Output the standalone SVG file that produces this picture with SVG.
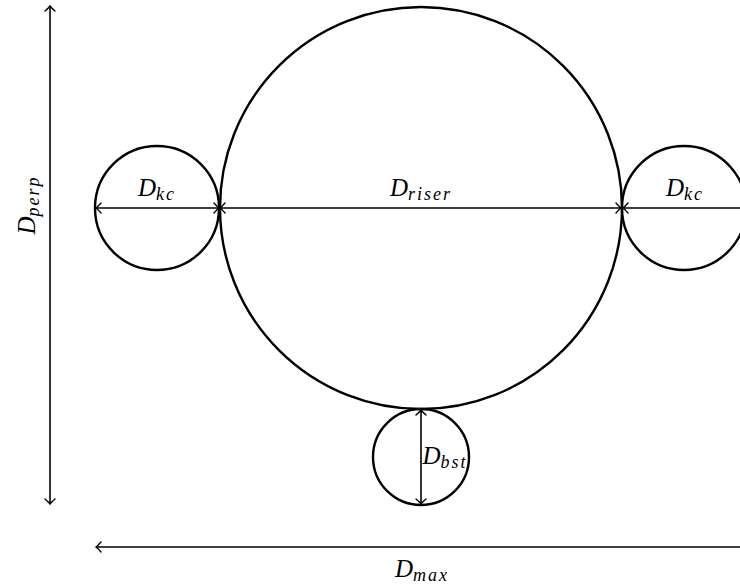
<svg xmlns="http://www.w3.org/2000/svg" width="740" height="586" viewBox="0 0 740 586">
<style>
.c{fill:none;stroke:#000;stroke-width:2.4}
.a{fill:none;stroke:#000;stroke-width:1.6;marker-start:url(#ah);marker-end:url(#ah)}
.ae{fill:none;stroke:#000;stroke-width:1.6;marker-start:url(#ah)}
.t{font-family:"Liberation Serif","DejaVu Serif",serif;font-style:italic;font-size:25px;fill:#000}
.s{font-size:18px;letter-spacing:2px}
</style>
<defs>
<marker id="ah" markerUnits="userSpaceOnUse" viewBox="-8 -6 10 12" markerWidth="10" markerHeight="12" refX="0" refY="0" orient="auto-start-reverse" overflow="visible">
<path d="M-5,-5 Q-1.5,-1 0,0 Q-1.5,1 -5,5" fill="none" stroke="#000" stroke-width="1.4" stroke-linecap="round"/>
</marker>
</defs>
<g id="riser"><circle class="c" cx="421" cy="208" r="201"/></g>
<g id="kc-left"><circle class="c" cx="157" cy="208" r="62"/></g>
<g id="kc-right"><circle class="c" cx="684" cy="208" r="62"/></g>
<g id="bst"><circle class="c" cx="421" cy="457" r="48"/></g>
<g id="connectors">
<line class="a" x1="96" y1="208" x2="219" y2="208"/>
<line class="a" x1="220" y1="208" x2="621" y2="208"/>
<line class="ae" x1="623" y1="208" x2="740" y2="208"/>
<line class="a" x1="421" y1="410" x2="421" y2="504"/>
<line class="a" x1="50" y1="6" x2="50" y2="504"/>
<line class="ae" x1="96" y1="547" x2="740" y2="547"/>
</g>
<g id="labels">
<text class="t" x="157" y="196" text-anchor="middle">D<tspan class="s" dy="4">kc</tspan></text>
<text class="t" x="421" y="196" text-anchor="middle">D<tspan class="s" dy="4">riser</tspan></text>
<text class="t" x="685" y="196" text-anchor="middle">D<tspan class="s" dy="4">kc</tspan></text>
<text class="t" x="445" y="464" text-anchor="middle">D<tspan class="s" dy="4">bst</tspan></text>
<text class="t" x="422" y="577" text-anchor="middle">D<tspan class="s" dy="4">max</tspan></text>
<text class="t" transform="translate(35,205) rotate(-90)" text-anchor="middle">D<tspan class="s" dy="4">perp</tspan></text>
</g>
</svg>
